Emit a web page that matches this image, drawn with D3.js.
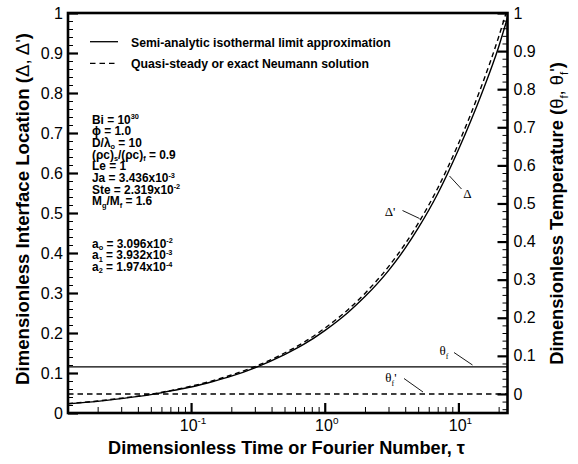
<!DOCTYPE html>
<html>
<head>
<meta charset="utf-8">
<script src="https://cdn.jsdelivr.net/npm/d3@7/dist/d3.min.js"></script>
<style>
  html, body { margin: 0; padding: 0; background: #fff; }
  svg { display: block; }
</style>
</head>
<body>
<svg id="chart" width="578" height="464"></svg>
<script>
// ---------------- DATA ----------------
const tau = [0.012, 0.02, 0.03, 0.05, 0.07, 0.1, 0.15, 0.2, 0.3, 0.5, 0.7, 1, 1.5, 2, 3, 4, 5, 7, 10, 15, 20, 23.3];
const deltaSemi = [0.023, 0.029, 0.036, 0.046, 0.055, 0.065, 0.080, 0.092, 0.113, 0.146, 0.172, 0.206, 0.252, 0.291, 0.356, 0.412, 0.462, 0.548, 0.658, 0.800, 0.915, 0.988];
const deltaNeumann = [0.0235, 0.030, 0.037, 0.047, 0.056, 0.067, 0.082, 0.095, 0.116, 0.150, 0.177, 0.212, 0.259, 0.299, 0.366, 0.423, 0.474, 0.562, 0.673, 0.820, 0.940, 1.012];
const thetaF = 0.071;       // right axis value, solid
const thetaFPrime = 0.0;    // right axis value, dashed
const xDomain = [0.012, 23.3];
const yLeftDomain = [0, 1];
const yRightDomain = [-0.05, 1];
const xTickDecades = [0.1, 1, 10];
const xTickLabels = ["10^{-1}", "10^{0}", "10^{1}"];
const yMajorTicks = [0, 0.1, 0.2, 0.3, 0.4, 0.5, 0.6, 0.7, 0.8, 0.9, 1];
const yTickLabels = ["0", "0.1", "0.2", "0.3", "0.4", "0.5", "0.6", "0.7", "0.8", "0.9", "1"];
const legendLabels = ["Semi-analytic isothermal limit approximation", "Quasi-steady or exact Neumann solution"];
const paramLines = ["Bi = 10^{30}", "\u03d5 = 1.0", "D/\u03bb_{o} = 10", "(\u03c1c)_{s}/(\u03c1c)_{f} = 0.9", "Le = 1",
                    "Ja = 3.436x10^{-3}", "Ste = 2.319x10^{-2}", "M_{g}/M_{f} = 1.6"];
const coefLines = ["a_{o} = 3.096x10^{-2}", "a_{1} = 3.932x10^{-3}", "a_{2} = 1.974x10^{-4}"];
const xTitle = "Dimensionless Time or Fourier Number, \u03c4";
const yLeftTitle = "Dimensionless Interface Location (|\u0394, \u0394'|)";
const yRightTitle = "Dimensionless Temperature (|\u03b8_{f}, \u03b8_{f}'|)";

// ---------------- LAYOUT ----------------
const W = 578, H = 464;
const L = 68, R = 507.5, T = 13, B = 413;
const SANS = "'Liberation Sans', Arial, Helvetica, sans-serif";
const SERIF = "'Liberation Serif', 'Times New Roman', serif";

const svg = d3.select("#chart");
const x = d3.scaleLog().domain(xDomain).range([L, R]);
const yL = d3.scaleLinear().domain(yLeftDomain).range([B, T]);
const yR = d3.scaleLinear().domain(yRightDomain).range([B, T]);

// rich text helper: ^{..} superscript, _{..} subscript, |..| normal weight
function rich(textSel, str, size, opts) {
  opts = opts || {};
  const supK = opts.sup || 0.42, subK = opts.sub || 0.28;
  const re = /(\^\{[^}]*\}|_\{[^}]*\}|\|[^|]*\|)/g;
  const parts = str.split(re).filter(s => s.length);
  let shift = opts.startShift || 0;
  let extraDy = opts.lineDy || 0;
  let first = true;
  const add = (txt, target, fs, weight) => {
    const ts = textSel.append("tspan").attr("dy", target - shift + extraDy).attr("font-size", fs).text(txt);
    if (first && opts.x !== undefined) ts.attr("x", opts.x);
    if (weight) ts.attr("font-weight", weight);
    first = false; extraDy = 0; shift = target;
  };
  parts.forEach(p => {
    if (p.startsWith("^{")) add(p.slice(2, -1), -supK * size, size * 0.62);
    else if (p.startsWith("_{")) add(p.slice(2, -1), subK * size, size * 0.62);
    else if (p.startsWith("|")) {
      p.slice(1, -1).split(/(_\{[^}]*\})/).filter(s => s.length).forEach(q => {
        if (q.startsWith("_{")) add(q.slice(2, -1), subK * size, size * 0.62, "normal");
        else add(q, 0, size, "normal");
      });
    }
    else add(p, 0, size);
  });
  return shift;
}

function fitWidth(textSel, target) {
  const len = textSel.node().getComputedTextLength();
  const base = parseFloat(textSel.attr("font-size"));
  const k = target / len;
  textSel.attr("font-size", base * k);
  textSel.selectAll("tspan").each(function () {
    const t = d3.select(this);
    const fs = parseFloat(t.attr("font-size"));
    const dy = parseFloat(t.attr("dy"));
    if (!isNaN(fs)) t.attr("font-size", fs * k);
    if (!isNaN(dy)) t.attr("dy", dy * k);
  });
  return k;
}

// multi-line block as a single text element
function block(xp, y0, lines, size, lh) {
  const t = svg.append("text").attr("x", xp).attr("y", y0)
    .attr("font-family", SANS).attr("font-weight", "bold").attr("font-size", size);
  let shift = 0;
  lines.forEach((s, i) => {
    shift = rich(t, s, size, { x: xp, startShift: shift, lineDy: i === 0 ? 0 : lh, sup: 0.36, sub: 0.2 });
  });
  return t;
}

// clip
svg.append("defs").append("clipPath").attr("id", "plotclip")
  .append("rect").attr("x", L).attr("y", T).attr("width", R - L).attr("height", B - T);

// ---------------- AXES (inward ticks) ----------------
const minorX = [];
[0.01, 0.1, 1, 10].forEach(d => { for (let m = 2; m <= 9; m++) { const v = d * m; if (v >= xDomain[0] && v <= xDomain[1]) minorX.push(v); } });
const minorLeft = d3.range(0, 51).map(i => i * 0.02).filter(v => Math.round(v * 100) % 10 !== 0);
const minorRight = d3.range(-2, 51).map(i => i * 0.02).filter(v => Math.round(Math.abs(v) * 100) % 10 !== 0 && v >= yRightDomain[0]);

function styleAxis(g, w) {
  g.select(".domain").remove();
  g.selectAll(".tick line").attr("stroke", "#000").attr("stroke-width", w);
}

svg.append("g").attr("transform", `translate(0,${B})`)
  .call(d3.axisBottom(x).tickValues(xTickDecades).tickSize(-10).tickFormat(""))
  .call(g => styleAxis(g, 2.2));
svg.append("g").attr("transform", `translate(0,${B})`)
  .call(d3.axisBottom(x).tickValues(minorX).tickSize(-6).tickFormat(""))
  .call(g => styleAxis(g, 1));

svg.append("g").attr("transform", `translate(${L},0)`)
  .call(d3.axisLeft(yL).tickValues(yMajorTicks).tickSize(-10).tickPadding(5)
        .tickFormat((d, i) => yTickLabels[i]))
  .call(g => styleAxis(g, 2.2))
  .call(g => g.selectAll("text").attr("font-family", SANS).attr("font-size", 16).attr("fill", "#000"));
svg.append("g").attr("transform", `translate(${L},0)`)
  .call(d3.axisLeft(yL).tickValues(minorLeft).tickSize(-5).tickFormat(""))
  .call(g => styleAxis(g, 1));

svg.append("g").attr("transform", `translate(${R},0)`)
  .call(d3.axisRight(yR).tickValues(yMajorTicks).tickSize(-10).tickPadding(6)
        .tickFormat((d, i) => yTickLabels[i]))
  .call(g => styleAxis(g, 2.2))
  .call(g => g.selectAll("text").attr("font-family", SANS).attr("font-size", 16).attr("fill", "#000"));
svg.append("g").attr("transform", `translate(${R},0)`)
  .call(d3.axisRight(yR).tickValues(minorRight).tickSize(-5).tickFormat(""))
  .call(g => styleAxis(g, 1));

xTickDecades.forEach((d, i) => {
  const t = svg.append("text").attr("x", x(d) + 2).attr("y", 430.5)
    .attr("text-anchor", "middle").attr("font-family", SANS).attr("font-size", 16);
  rich(t, xTickLabels[i], 16);
});

svg.append("rect").attr("x", L).attr("y", T).attr("width", R - L).attr("height", B - T)
  .attr("fill", "none").attr("stroke", "#000").attr("stroke-width", 2.6);

// ---------------- SERIES ----------------
const plot = svg.append("g").attr("clip-path", "url(#plotclip)");
const line = d3.line().x(d => x(d[0])).y(d => yL(d[1])).curve(d3.curveMonotoneX);

plot.append("path").datum(tau.map((t, i) => [t, deltaSemi[i]]))
  .attr("d", line).attr("fill", "none").attr("stroke", "#000").attr("stroke-width", 1.4);
plot.append("path").datum(tau.map((t, i) => [t, deltaNeumann[i]]))
  .attr("d", line).attr("fill", "none").attr("stroke", "#000").attr("stroke-width", 1.4)
  .attr("stroke-dasharray", "5,3.5");

plot.append("line").attr("x1", L).attr("x2", R).attr("y1", yR(thetaF)).attr("y2", yR(thetaF))
  .attr("stroke", "#000").attr("stroke-width", 1.4);
plot.append("line").attr("x1", L).attr("x2", R).attr("y1", yR(thetaFPrime)).attr("y2", yR(thetaFPrime))
  .attr("stroke", "#000").attr("stroke-width", 1.4).attr("stroke-dasharray", "5.5,4");

// ---------------- ANNOTATIONS ----------------
function leader(x1, y1, x2, y2) {
  svg.append("line").attr("x1", x1).attr("y1", y1).attr("x2", x2).attr("y2", y2)
    .attr("stroke", "#000").attr("stroke-width", 0.9);
}
function label(xp, yp, str) {
  const t = svg.append("text").attr("x", xp).attr("y", yp).attr("text-anchor", "middle")
    .attr("font-family", SERIF).attr("font-size", 13);
  rich(t, str, 13);
}
leader(449.5, 176, 461.5, 189); label(467.5, 198, "\u0394");
leader(402.5, 210.5, 419.5, 218.5); label(390, 216, "\u0394'");
leader(454, 352.5, 472.5, 365); label(444, 355, "\u03b8_{f}");
leader(404, 378.5, 423, 392); label(391, 382, "\u03b8_{f}'");

// ---------------- LEGEND ----------------
svg.append("line").attr("x1", 90).attr("x2", 118).attr("y1", 41.7).attr("y2", 41.7)
  .attr("stroke", "#000").attr("stroke-width", 1.3);
svg.append("line").attr("x1", 90).attr("x2", 118).attr("y1", 63.3).attr("y2", 63.3)
  .attr("stroke", "#000").attr("stroke-width", 1.3).attr("stroke-dasharray", "5.5,4");
const lg1 = svg.append("text").attr("x", 131).attr("y", 46.5).attr("font-family", SANS)
  .attr("font-weight", "bold").attr("font-size", 12).text(legendLabels[0]);
fitWidth(lg1, 260);
const lg2 = svg.append("text").attr("x", 131).attr("y", 68).attr("font-family", SANS)
  .attr("font-weight", "bold").attr("font-size", 12).text(legendLabels[1]);
fitWidth(lg2, 238);

// ---------------- PARAMETER BLOCKS ----------------
block(92, 123.5, paramLines, 11.9, 11.7);
block(92, 247.5, coefLines, 11.9, 11.7);

// ---------------- AXIS TITLES ----------------
const xt = svg.append("text").attr("x", 286.5).attr("y", 453.5).attr("text-anchor", "middle")
  .attr("font-family", SANS).attr("font-weight", "bold").attr("font-size", 18);
rich(xt, xTitle, 18);
fitWidth(xt, 357);

const ylt = svg.append("text").attr("transform", "translate(29,209) rotate(-90)")
  .attr("text-anchor", "middle").attr("font-family", SANS).attr("font-weight", "bold").attr("font-size", 18);
rich(ylt, yLeftTitle, 18);
fitWidth(ylt, 352);

const yrt = svg.append("text").attr("transform", "translate(563,213.5) rotate(-90)")
  .attr("text-anchor", "middle").attr("font-family", SANS).attr("font-weight", "bold").attr("font-size", 18);
rich(yrt, yRightTitle, 18);
fitWidth(yrt, 303);
</script>
</body>
</html>
